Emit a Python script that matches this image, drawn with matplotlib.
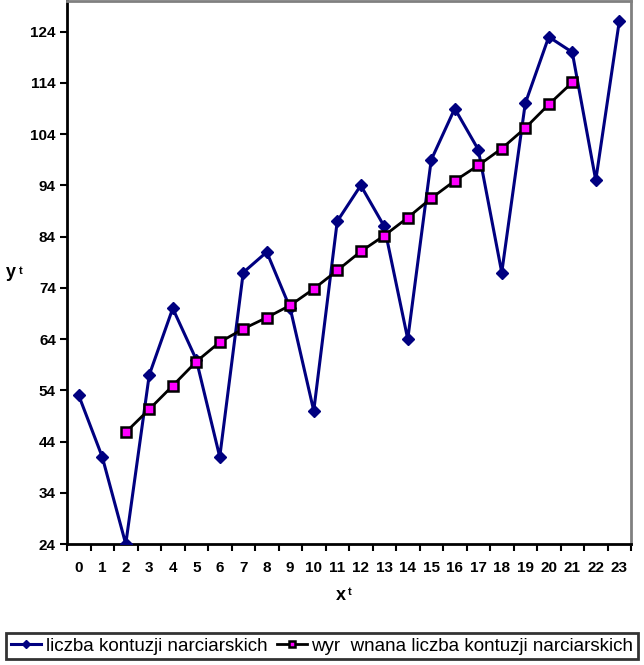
import numpy as np
import matplotlib.pyplot as plt
from matplotlib.ticker import FixedLocator, NullFormatter

plt.rcParams["font.family"] = ["Liberation Sans", "DejaVu Sans"]
plt.rcParams["font.weight"] = "bold"

# ---- data ----
x_cats = list(range(24))
kontuzje = [53, 41, 24, 57, 70, 60, 41, 77, 81, 70, 50, 87,
            94, 86, 64, 99, 109, 101, 77, 110, 123, 120, 95, 126]
trend_x = list(range(2, 22))
trend = [45.8, 50.3, 54.9, 59.6, 63.4, 66.0, 68.2, 70.6, 73.8, 77.4,
         81.1, 84.2, 87.7, 91.5, 94.9, 97.9, 101.2, 105.2, 109.8, 114.1]
y_ticks = list(range(24, 125, 10))

label_1 = "liczba kontuzji narciarskich"
label_2 = "wyr  wnana liczba kontuzji narciarskich"

fig = plt.figure(figsize=(6.44, 6.65), dpi=100)
ax = fig.add_axes([67 / 644, 121 / 665, (631 - 67) / 644, (544 - 1) / 665])

ax.plot(x_cats, kontuzje, color="#000080", lw=2.2, marker="D", ms=6,
        mfc="#000080", mec="#000080", label=label_1, zorder=3)
ax.plot(trend_x, trend, color="black", lw=2, marker="s", ms=7,
        mfc="#ff00ff", mec="black", mew=1.8, label=label_2, zorder=4)

ax.set_xlim(-0.5, 23.5)
ax.set_ylim(24, 130)
ax.set_yticks(y_ticks)
ax.set_xticks(x_cats)
ax.xaxis.set_minor_locator(FixedLocator(np.arange(-0.5, 24, 1)))
ax.xaxis.set_minor_formatter(NullFormatter())
ax.tick_params(axis="x", which="major", length=0, pad=12, labelsize=11)
ax.tick_params(axis="x", which="minor", length=5, width=1.5, direction="out")
ax.tick_params(axis="y", length=5, width=1.5, direction="out", labelsize=11, pad=3)

for s in ("left", "bottom"):
    ax.spines[s].set_linewidth(2)
    ax.spines[s].set_color("black")
for s in ("top", "right"):
    ax.spines[s].set_linewidth(2)
    ax.spines[s].set_color("#808080")

fig.text(6 / 644, 1 - 273 / 665, "y", fontsize=13, fontweight="bold", va="center")
fig.text(19 / 644, 1 - 271 / 665, "t", fontsize=8, fontweight="bold", va="center")
fig.text(336 / 644, 1 - 595 / 665, "x", fontsize=13, fontweight="bold", va="center")
fig.text(348 / 644, 1 - 592 / 665, "t", fontsize=8, fontweight="bold", va="center")

leg = fig.legend(loc="center", bbox_to_anchor=(0.5, 1 - 646 / 665), ncol=2,
                 frameon=True, fancybox=False, edgecolor="black",
                 prop={"size": 13.5, "weight": "normal"}, handlelength=1.6,
                 handletextpad=0.25, columnspacing=0.5, borderpad=0.25,
                 borderaxespad=0, markerscale=0.7)
leg.get_frame().set_linewidth(2)

fig.savefig("out.png", dpi=100)
